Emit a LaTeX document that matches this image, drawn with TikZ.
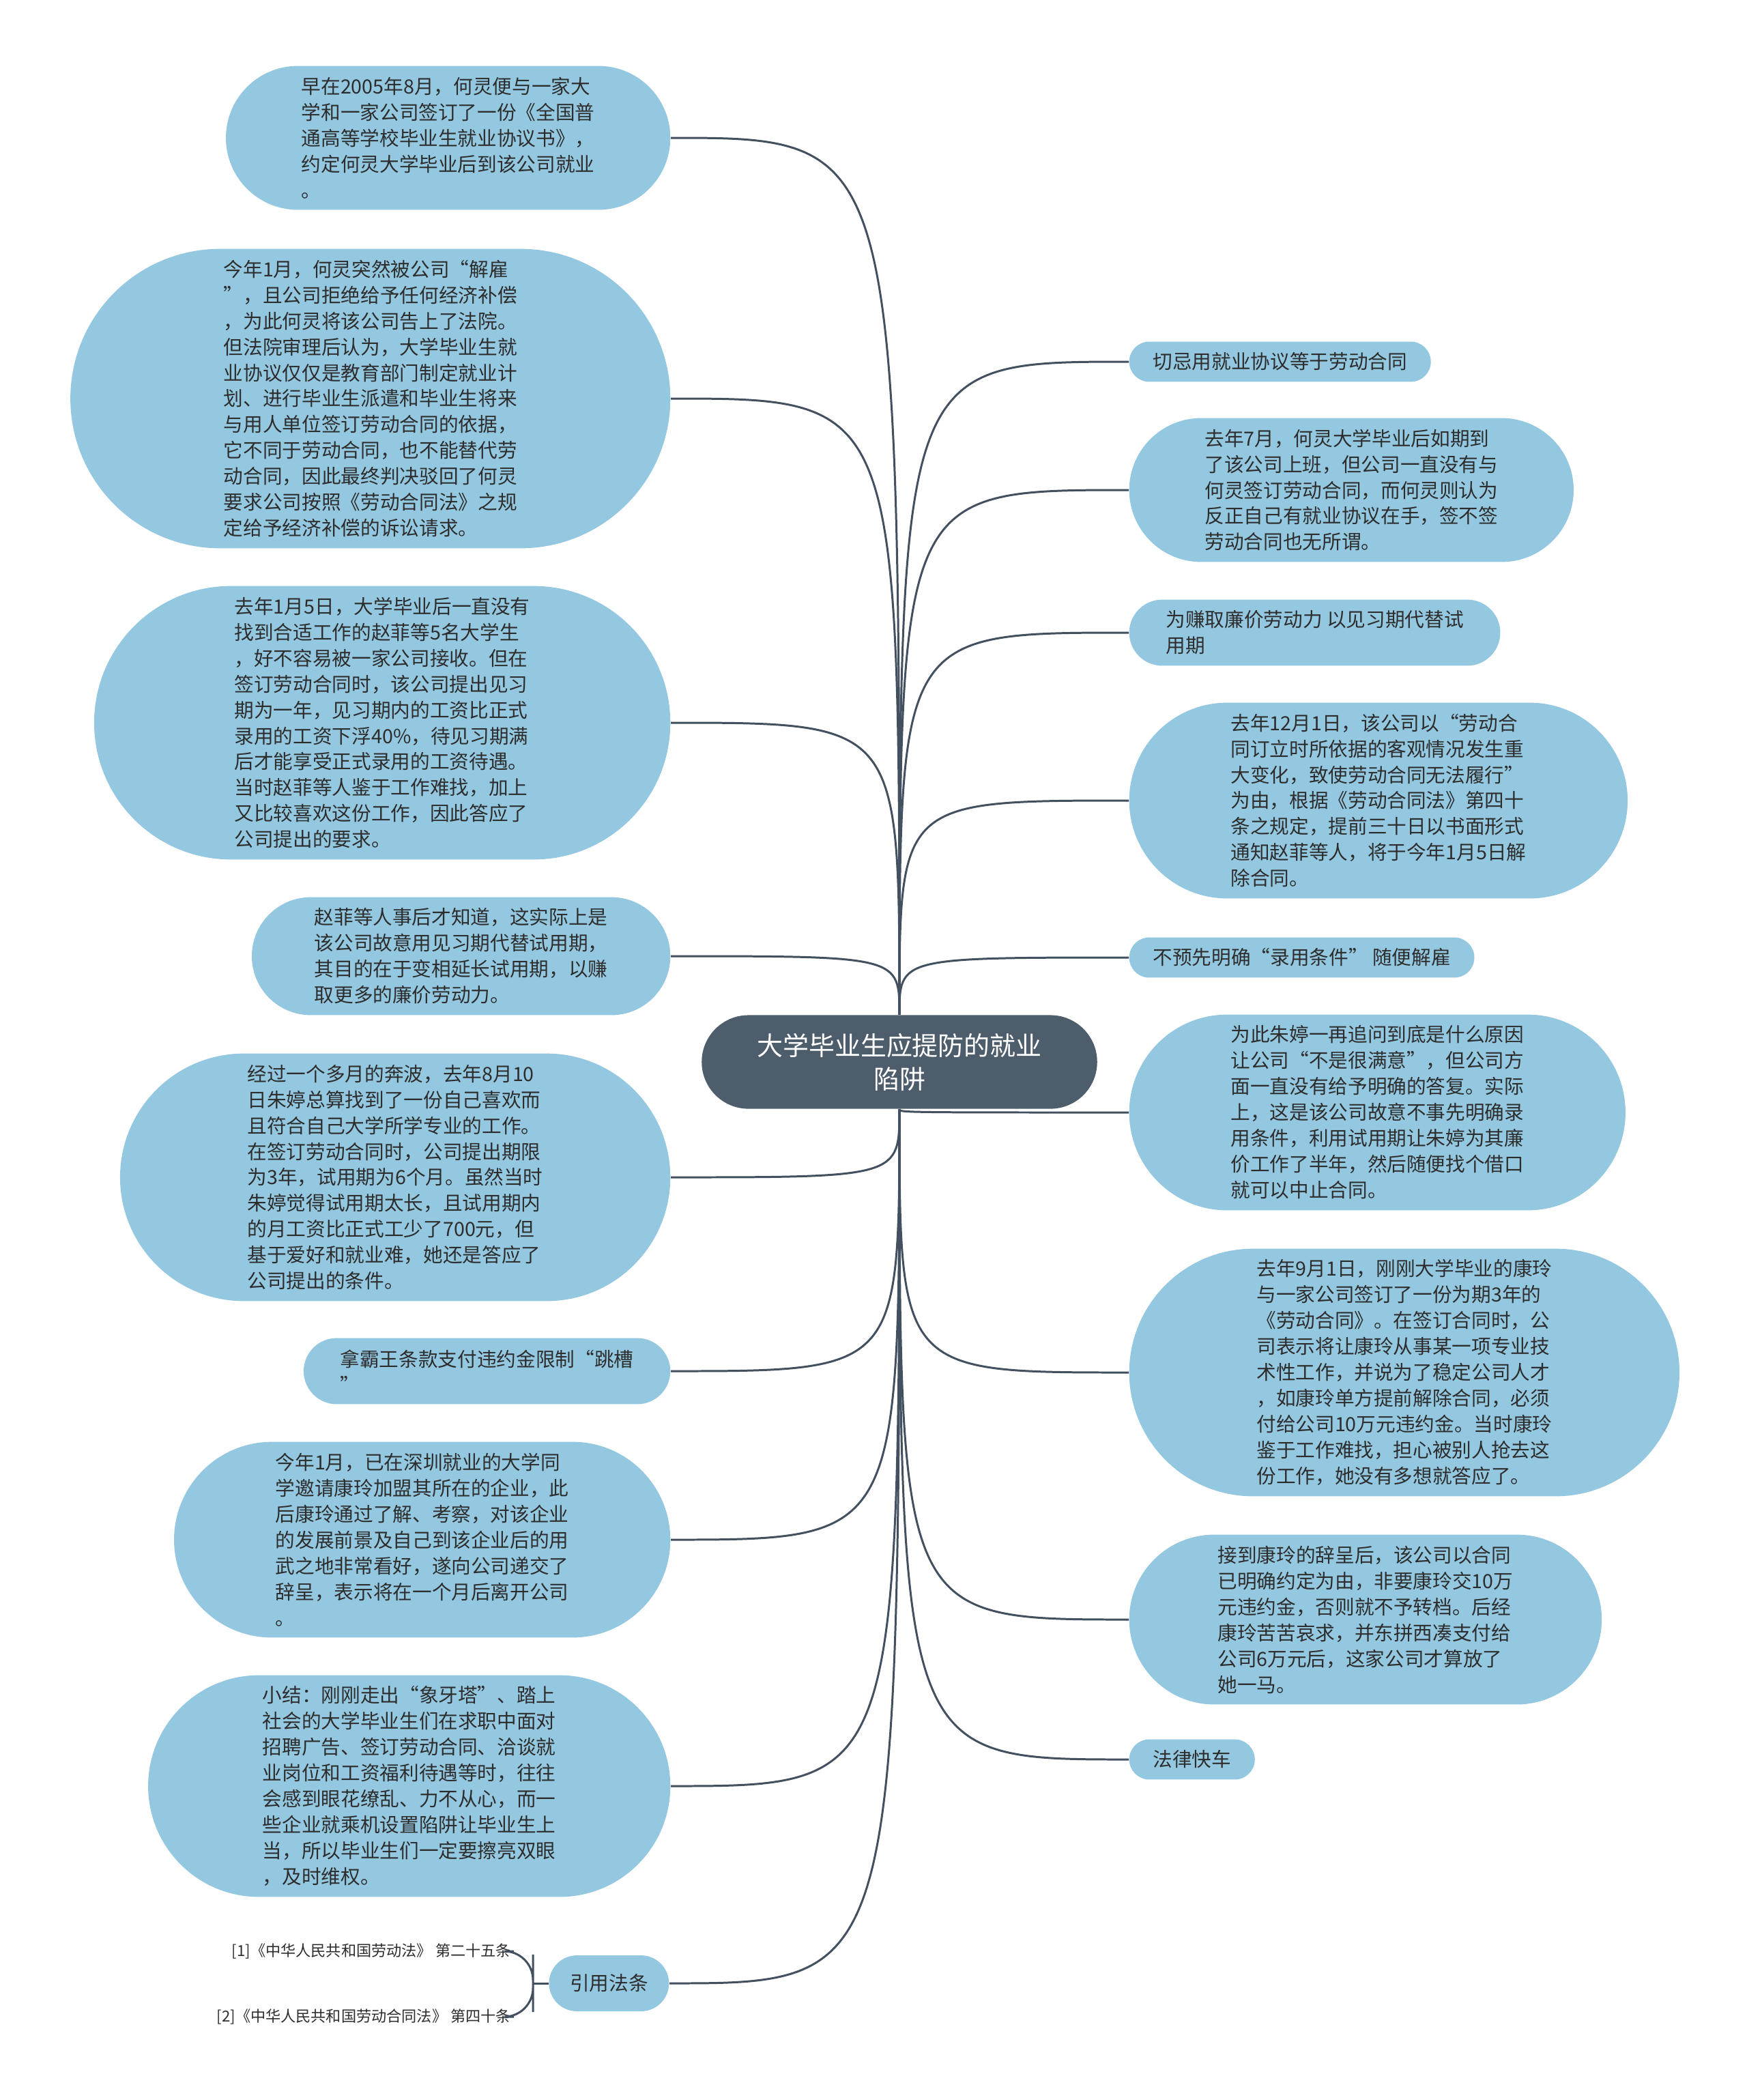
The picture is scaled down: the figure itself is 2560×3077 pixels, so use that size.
\documentclass[tikz,border=0pt]{standalone}
\usepackage{fontspec}
\setmainfont{Noto Sans CJK SC}
\usepackage{tikz}
\definecolor{boxblue}{RGB}{148,200,224}
\definecolor{hubslate}{RGB}{78,93,108}
\definecolor{linkslate}{RGB}{66,80,95}
\definecolor{textgray}{RGB}{45,45,45}

\begin{document}
\begin{tikzpicture}[x=0.01cm,y=-0.01cm,
  box/.style={rectangle,fill=boxblue,text=textgray,align=left,
    font=\fontsize{8.15}{10.8}\selectfont,inner ysep=2pt,
    minimum height={(#1-1)*10.8pt+16.75pt},
    rounded corners={((#1-1)*10.8pt+16.75pt)/2},
    inner xsep={((#1-1)*10.8pt+16.75pt)/2+1.5pt}},
  hub/.style={rectangle,fill=hubslate,text=white,align=center,
    font=\fontsize{10.8}{13.9}\selectfont,inner ysep=2pt,
    minimum height=39pt,rounded corners=19.5pt,inner xsep=23pt},
  refnote/.style={text=textgray,inner sep=1pt,font=\fontsize{6.3}{7.5}\selectfont},
  link/.style={draw=linkslate,line width=0.85pt}
]
\useasboundingbox (0,0) rectangle (2560,3077);

\node[hub] (c) at (1318,1556) {大学毕业生应提防的就业\\陷阱};

\node[box=5,anchor=east] (l1) at (983,202) {早在2005年8月，何灵便与一家大\\学和一家公司签订了一份《全国普\\通高等学校毕业生就业协议书》，\\约定何灵大学毕业后到该公司就业\\。};
\node[box=11,anchor=east] (l2) at (983,584) {今年1月，何灵突然被公司“解雇\\”，且公司拒绝给予任何经济补偿\\，为此何灵将该公司告上了法院。\\但法院审理后认为，大学毕业生就\\业协议仅仅是教育部门制定就业计\\划、进行毕业生派遣和毕业生将来\\与用人单位签订劳动合同的依据，\\它不同于劳动合同，也不能替代劳\\动合同，因此最终判决驳回了何灵\\要求公司按照《劳动合同法》之规\\定给予经济补偿的诉讼请求。};
\node[box=10,anchor=east] (l3) at (983,1059) {去年1月5日，大学毕业后一直没有\\找到合适工作的赵菲等5名大学生\\，好不容易被一家公司接收。但在\\签订劳动合同时，该公司提出见习\\期为一年，见习期内的工资比正式\\录用的工资下浮40\%，待见习期满\\后才能享受正式录用的工资待遇。\\当时赵菲等人鉴于工作难找，加上\\又比较喜欢这份工作，因此答应了\\公司提出的要求。};
\node[box=4,anchor=east] (l4) at (983,1401) {赵菲等人事后才知道，这实际上是\\该公司故意用见习期代替试用期，\\其目的在于变相延长试用期，以赚\\取更多的廉价劳动力。};
\node[box=9,anchor=east] (l5) at (983,1725) {经过一个多月的奔波，去年8月10\\日朱婷总算找到了一份自己喜欢而\\且符合自己大学所学专业的工作。\\在签订劳动合同时，公司提出期限\\为3年，试用期为6个月。虽然当时\\朱婷觉得试用期太长，且试用期内\\的月工资比正式工少了700元，但\\基于爱好和就业难，她还是答应了\\公司提出的条件。};
\node[box=2,anchor=east] (l6) at (983,2009) {拿霸王条款支付违约金限制“跳槽\\”};
\node[box=7,anchor=east] (l7) at (983,2256) {今年1月，已在深圳就业的大学同\\学邀请康玲加盟其所在的企业，此\\后康玲通过了解、考察，对该企业\\的发展前景及自己到该企业后的用\\武之地非常看好，遂向公司递交了\\辞呈，表示将在一个月后离开公司\\。};
\node[box=8,anchor=east] (l8) at (983,2617) {小结：刚刚走出“象牙塔”、踏上\\社会的大学毕业生们在求职中面对\\招聘广告、签订劳动合同、洽谈就\\业岗位和工资福利待遇等时，往往\\会感到眼花缭乱、力不从心，而一\\些企业就乘机设置陷阱让毕业生上\\当，所以毕业生们一定要擦亮双眼\\，及时维权。};
\node[box=1,anchor=east,minimum height=23.3pt,rounded corners=11.65pt,inner xsep=8.7pt] (law) at (981,2906) {引用法条};
\node[refnote,anchor=east] (ref1) at (753,2859) {[1]《中华人民共和国劳动法》 第二十五条};
\node[refnote,anchor=east] (ref2) at (753,2955) {[2]《中华人民共和国劳动合同法》 第四十条};

\node[box=1,anchor=west] (r1) at (1654,530) {切忌用就业协议等于劳动合同};
\node[box=5,anchor=west] (r2) at (1654,718) {去年7月，何灵大学毕业后如期到\\了该公司上班，但公司一直没有与\\何灵签订劳动合同，而何灵则认为\\反正自己有就业协议在手，签不签\\劳动合同也无所谓。};
\node[box=2,anchor=west] (r3) at (1654,927) {为赚取廉价劳动力 以见习期代替试\\用期};
\node[box=7,anchor=west] (r4) at (1654,1173) {去年12月1日，该公司以“劳动合\\同订立时所依据的客观情况发生重\\大变化，致使劳动合同无法履行”\\为由，根据《劳动合同法》第四十\\条之规定，提前三十日以书面形式\\通知赵菲等人，将于今年1月5日解\\除合同。};
\node[box=1,anchor=west] (r5) at (1654,1403) {不预先明确“录用条件” 随便解雇};
\node[box=7,anchor=west] (r6) at (1654,1630) {为此朱婷一再追问到底是什么原因\\让公司“不是很满意”，但公司方\\面一直没有给予明确的答复。实际\\上，这是该公司故意不事先明确录\\用条件，利用试用期让朱婷为其廉\\价工作了半年，然后随便找个借口\\就可以中止合同。};
\node[box=9,anchor=west] (r7) at (1654,2011) {去年9月1日，刚刚大学毕业的康玲\\与一家公司签订了一份为期3年的\\《劳动合同》。在签订合同时，公\\司表示将让康玲从事某一项专业技\\术性工作，并说为了稳定公司人才\\，如康玲单方提前解除合同，必须\\付给公司10万元违约金。当时康玲\\鉴于工作难找，担心被别人抢去这\\份工作，她没有多想就答应了。};
\node[box=6,anchor=west] (r8) at (1654,2373) {接到康玲的辞呈后，该公司以合同\\已明确约定为由，非要康玲交10万\\元违约金，否则就不予转档。后经\\康玲苦苦哀求，并东拼西凑支付给\\公司6万元后，这家公司才算放了\\她一马。};
\node[box=1,anchor=west] (r9) at (1654,2578) {法律快车};

\draw[link] (c.north) .. controls (c.north |- l1.east) .. (l1.east);
\draw[link] (c.north) .. controls (c.north |- l2.east) .. (l2.east);
\draw[link] (c.north) .. controls (c.north |- l3.east) .. (l3.east);
\draw[link] (c.north) .. controls (c.north |- l4.east) .. (l4.east);
\draw[link] (c.south) .. controls (c.south |- l5.east) .. (l5.east);
\draw[link] (c.south) .. controls (c.south |- l6.east) .. (l6.east);
\draw[link] (c.south) .. controls (c.south |- l7.east) .. (l7.east);
\draw[link] (c.south) .. controls (c.south |- l8.east) .. (l8.east);
\draw[link] (c.south) .. controls (c.south |- law.east) .. (law.east);
\draw[link] (c.north) .. controls (c.north |- r1.west) .. (r1.west);
\draw[link] (c.north) .. controls (c.north |- r2.west) .. (r2.west);
\draw[link] (c.north) .. controls (c.north |- r3.west) .. (r3.west);
\draw[link] (c.north) .. controls (c.north |- r4.west) .. (r4.west);
\draw[link] (c.north) .. controls (c.north |- r5.west) .. (r5.west);
\draw[link] (c.south) .. controls (c.south |- r6.west) .. (r6.west);
\draw[link] (c.south) .. controls (c.south |- r7.west) .. (r7.west);
\draw[link] (c.south) .. controls (c.south |- r8.west) .. (r8.west);
\draw[link] (c.south) .. controls (c.south |- r9.west) .. (r9.west);

\coordinate (brace) at (781,2906);
\draw[link] (law.west) -- (brace);
\draw[link,rounded corners=12pt] (ref1.east) -| (brace) |- (ref2.east);
\end{tikzpicture}
\end{document}
